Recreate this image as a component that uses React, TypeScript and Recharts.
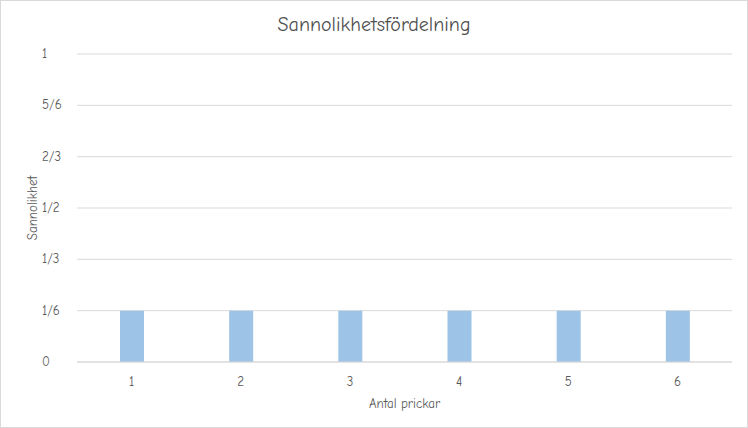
import { Bar, BarChart, CartesianGrid, XAxis, YAxis } from "recharts";

const prickar = [1, 2, 3, 4, 5, 6];
const sannolikhet = [1 / 6, 1 / 6, 1 / 6, 1 / 6, 1 / 6, 1 / 6];
const yTicks = [0, 1 / 6, 2 / 6, 3 / 6, 4 / 6, 5 / 6, 1];
const yTickLabels = ["0", "1/6", "1/3", "1/2", "2/3", "5/6", "1"];
const edgeTicks = [0.5, 1.5, 2.5, 3.5, 4.5, 5.5, 6.5];

const data = prickar.map((x, i) => ({ x, p: sannolikhet[i] }));

const FONT = "'Comic Sans MS', 'Comic Neue', Lato, sans-serif";
const TEXT = "#595959";
const GRID = "#d9d9d9";

// y-etiketterna är vänsterjusterade som i Excel
const YTick = (props: any) => {
  const { x, y, payload, index } = props;
  return (
    <text
      x={x - 27}
      y={y}
      dy={4}
      textAnchor="start"
      fill={TEXT}
      fontSize={13}
      fontFamily={FONT}
    >
      {yTickLabels[index] ?? String(payload.value)}
    </text>
  );
};

export default function App() {
  return (
    <div
      style={{
        position: "absolute",
        left: 0,
        top: 0,
        width: 748,
        height: 428,
        boxSizing: "border-box",
        boxShadow: `inset 0 0 0 1px ${GRID}`,
        background: "#fff",
        fontFamily: FONT,
      }}
    >
      <div
        style={{
          position: "absolute",
          top: 13,
          left: 0,
          width: 748,
          textAlign: "center",
          fontSize: 20,
          color: "#505050",
        }}
      >
        Sannolikhetsfördelning
      </div>
      <BarChart
        width={748}
        height={428}
        data={data}
        margin={{ top: 54, right: 16, left: 0, bottom: 0 }}
        style={{ position: "absolute", left: 0, top: 0 }}
      >
        <CartesianGrid vertical={false} stroke={GRID} xAxisId="edges" />
        {/* kategorigränser: små streck under axeln */}
        <XAxis
          xAxisId="edges"
          type="number"
          dataKey="x"
          domain={[0.5, 6.5]}
          ticks={edgeTicks}
          tick={false}
          tickSize={5}
          tickLine={{ stroke: GRID }}
          axisLine={{ stroke: GRID }}
          height={1}
        />
        <XAxis
          xAxisId="main"
          type="number"
          dataKey="x"
          domain={[0.5, 6.5]}
          ticks={prickar}
          tickLine={false}
          axisLine={false}
          tickMargin={8}
          tick={{ fill: TEXT, fontSize: 13, fontFamily: FONT }}
          height={65}
          label={{
            value: "Antal prickar",
            position: "insideBottom",
            offset: 20,
            fill: TEXT,
            fontSize: 13,
            fontFamily: FONT,
          }}
        />
        <YAxis
          type="number"
          domain={[0, 1]}
          ticks={yTicks}
          width={77}
          axisLine={false}
          tickLine={false}
          tick={<YTick />}
          label={{
            value: "Sannolikhet",
            angle: -90,
            position: "insideLeft",
            offset: 32,
            fill: TEXT,
            fontSize: 13,
            fontFamily: FONT,
            style: { textAnchor: "middle" },
          }}
        />
        <Bar
          xAxisId="main"
          dataKey="p"
          fill="#9dc3e6"
          barSize={24}
          isAnimationActive={false}
        />
      </BarChart>
    </div>
  );
}
